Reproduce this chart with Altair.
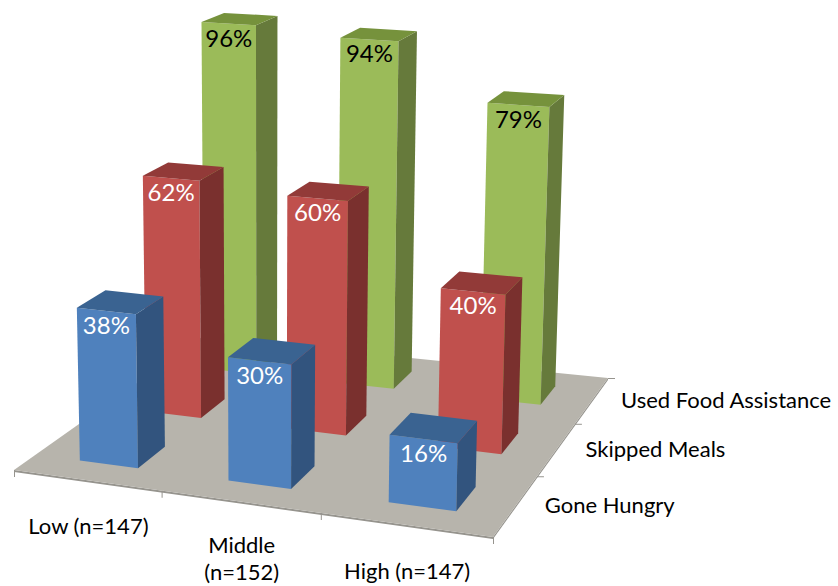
import altair as alt
import numpy as np

# Chart values
income_groups = ["Low (n=147)", "Middle\n(n=152)", "High (n=147)"]
measures = ["Gone Hungry", "Skipped Meals", "Used Food Assistance"]
gone_hungry = [38, 30, 16]
skipped_meals = [62, 60, 40]
used_food_assistance = [96, 94, 79]
series = [gone_hungry, skipped_meals, used_food_assistance]

# Face colours per measure: front, side, top, label
palette = [
    ("#4F81BD", "#32547E", "#3A6391", "#FFFFFF"),
    ("#C0504D", "#7A302E", "#923A38", "#FFFFFF"),
    ("#9BBB59", "#667A3B", "#76923C", "#000000"),
]
FLOOR = "#B7B4AC"
FLOOR_EDGE = "#96948E"

# Camera: the floor square (0..3, 0..3) maps to the page through a homography
floor_corners = [(14, 470), (493, 537), (608, 378), (202, 337)]
unit_corners = [(0, 0), (3, 0), (3, 3), (0, 3)]
BAR_HALF_U = 0.2
BAR_HALF_V = 0.205
BAR_SHIFT = 0.01
NADIR_X = 265
NADIR_DIST = 9350


def solve_homography(src, dst):
    rows, rhs = [], []
    for (u, v), (x, y) in zip(src, dst):
        rows.append([u, v, 1, 0, 0, 0, -u * x, -v * x])
        rows.append([0, 0, 0, u, v, 1, -u * y, -v * y])
        rhs += [x, y]
    return np.append(np.linalg.solve(np.array(rows, float), np.array(rhs, float)), 1).reshape(3, 3)


HOMOGRAPHY = solve_homography(unit_corners, floor_corners)


def project(u, v, value=0.0):
    px, py, w = HOMOGRAPHY @ np.array([u, v, 1.0])
    x, y = px / w, py / w
    rise = value * (3.6 + 0.00448 * (y - 367))
    return [float(x + (x - NADIR_X) * rise / NADIR_DIST), float(y - rise)]


def polygon(points, fill):
    ring = [list(p) for p in points] + [list(points[0])]
    return {"type": "Feature", "properties": {"fill": fill},
            "geometry": {"type": "Polygon", "coordinates": [ring]}}


def shifted(p, dx, dy):
    return [p[0] + dx, p[1] + dy]


# Floor slab, its dark rim and tick marks
features = []
c0, c1, c2, c3 = [project(*c) for c in unit_corners]
features.append(polygon([c0, c1, shifted(c1, 0, 2), shifted(c0, 0, 2)], FLOOR_EDGE))
features.append(polygon([c1, c2, shifted(c2, 0, 2), shifted(c1, 0, 2)], FLOOR_EDGE))
features.append(polygon([c0, c1, c2, c3], FLOOR))
for i in range(4):
    t = project(i, 0)
    features.append(polygon([t, shifted(t, 1, 0), shifted(t, 1, 7), shifted(t, 0, 7)], FLOOR_EDGE))
for j in range(1, 4):
    t = project(3, j)
    features.append(polygon([t, shifted(t, 7, 0), shifted(t, 7, 1), shifted(t, 0, 1)], FLOOR_EDGE))

# Bars, painted from the back row forward
labels = []
for row in reversed(range(len(series))):
    front, side, top, ink = palette[row]
    for col, value in enumerate(series[row]):
        u0, u1 = col + 0.5 + BAR_SHIFT - BAR_HALF_U, col + 0.5 + BAR_SHIFT + BAR_HALF_U
        v0, v1 = row + 0.5 - BAR_HALF_V, row + 0.5 + BAR_HALF_V
        fl, fr, br = project(u0, v0), project(u1, v0), project(u1, v1)
        tfl, tfr, tbr, tbl = (project(u0, v0, value), project(u1, v0, value),
                              project(u1, v1, value), project(u0, v1, value))
        features.append(polygon([fl, fr, tfr, tfl], front))
        features.append(polygon([fr, br, tbr, tfr], side))
        features.append(polygon([tfl, tfr, tbr, tbl], top))
        labels.append({"text": f"{value}%", "x": (tfl[0] + tfr[0]) / 2,
                       "y": (tfl[1] + tfr[1]) / 2 + 16, "ink": ink})

# Category names under the front edge, measure names beside the right edge
axis_labels = []
for col, name in enumerate(income_groups):
    x, y = project(col + 0.5, 0)
    drop = 44 if "\n" in name else 47
    axis_labels.append({"text": name, "x": x + 2, "y": y + drop})
measure_labels = []
for row, name in enumerate(measures):
    x, y = project(3, row + 0.5)
    measure_labels.append({"text": name, "x": x + 29, "y": y + 1})

WIDTH, HEIGHT = 838, 586
x_pos = alt.X("x:Q", scale=alt.Scale(domain=[0, WIDTH], range=[0, WIDTH]), axis=None)
y_pos = alt.Y("y:Q", scale=alt.Scale(domain=[0, HEIGHT], range=[0, HEIGHT]), axis=None)
FONT = "Lato"

shapes = alt.Chart(alt.Data(values=features, format=alt.DataFormat(type="json"))).mark_geoshape(
    strokeWidth=0
).encode(color=alt.Color("properties.fill:N", scale=None)).project(
    type="identity", scale=1, translate=[0, 0]
)

value_text = alt.Chart(alt.Data(values=labels)).mark_text(
    font=FONT, fontSize=24, baseline="middle", align="center"
).encode(x=x_pos, y=y_pos, text="text:N", color=alt.Color("ink:N", scale=None))

axis_text = alt.Chart(alt.Data(values=axis_labels)).mark_text(
    font=FONT, fontSize=22, baseline="middle", align="center", color="#000000",
    lineHeight=27, lineBreak="\n"
).encode(x=x_pos, y=y_pos, text="text:N")

measure_text = alt.Chart(alt.Data(values=measure_labels)).mark_text(
    font=FONT, fontSize=22, baseline="middle", align="left", color="#000000"
).encode(x=x_pos, y=y_pos, text="text:N")

chart = alt.layer(shapes, value_text, axis_text, measure_text).properties(
    width=WIDTH, height=HEIGHT, padding=0,
    autosize=alt.AutoSizeParams(type="none"),
).configure_view(stroke=None)

chart.save("out.html", embed_options={"renderer": "svg", "actions": False})
